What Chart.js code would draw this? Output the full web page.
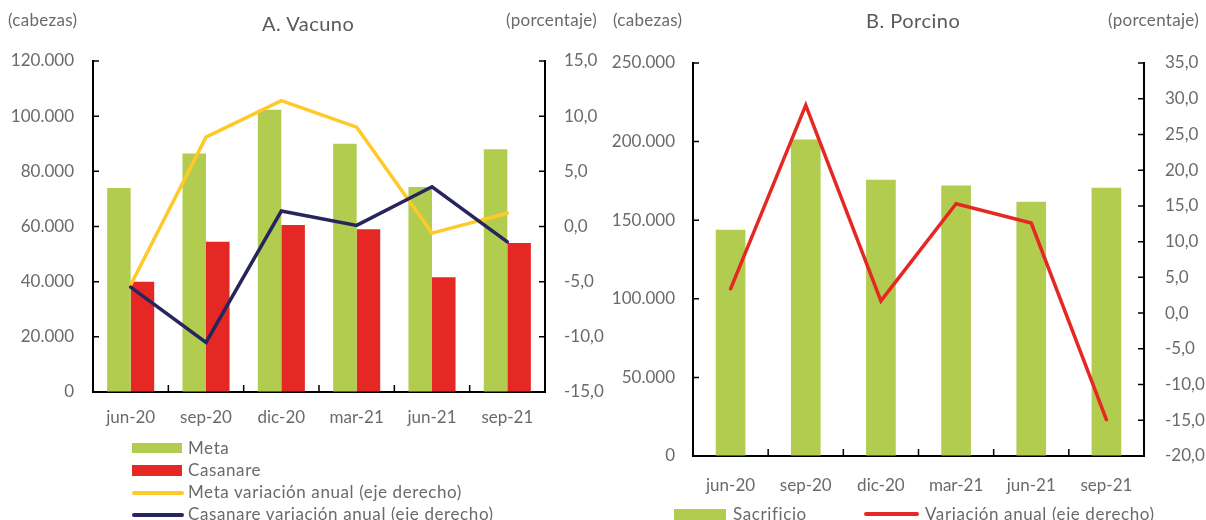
<!DOCTYPE html>
<html>
<head>
<meta charset="utf-8">
<script src="https://cdn.jsdelivr.net/npm/chart.js@4/dist/chart.umd.min.js"></script>
<style>
  body { margin: 0; width: 1206px; height: 520px; background: #fff; position: relative; overflow: hidden; font-family: Lato, "Open Sans", sans-serif; color: #666; }
  canvas { position: absolute; }
  .lbl { position: absolute; font-size: 17px; letter-spacing: 0.3px; color: #6a6a6a; white-space: nowrap; }
  .ttl { position: absolute; font-size: 20px; letter-spacing: 0.5px; color: #5a5a5a; white-space: nowrap; }
  .leg { position: absolute; font-size: 17px; letter-spacing: 0.6px; color: #6a6a6a; white-space: nowrap; line-height: 20px; }
  .sw { position: absolute; }
</style>
</head>
<body>
<canvas id="vacuno" width="606" height="440" style="left:0;top:0"></canvas>
<canvas id="porcino" width="606" height="520" style="left:600px;top:0"></canvas>

<div class="lbl" style="left:8px;top:9px">(cabezas)</div>
<div class="ttl" style="left:262px;top:11px">A. Vacuno</div>
<div class="lbl" style="left:506px;top:9px">(porcentaje)</div>
<div class="lbl" style="left:613px;top:9px">(cabezas)</div>
<div class="ttl" style="left:866px;top:8px">B. Porcino</div>
<div class="lbl" style="left:1108px;top:9px">(porcentaje)</div>

<!-- leyenda A -->
<div class="sw" style="left:132px;top:443px;width:50px;height:10px;background:#B2CC50"></div>
<div class="leg" style="left:188px;top:438px">Meta</div>
<div class="sw" style="left:132px;top:465px;width:50px;height:11px;background:#E52823"></div>
<div class="leg" style="left:188px;top:460px">Casanare</div>
<div class="sw" style="left:132px;top:491px;width:52px;height:4px;border-radius:2px;background:#FFC929"></div>
<div class="leg" style="left:188px;top:482px">Meta variación anual (eje derecho)</div>
<div class="sw" style="left:132px;top:513px;width:52px;height:4px;border-radius:2px;background:#27255E"></div>
<div class="leg" style="left:188px;top:504px">Casanare variación anual (eje derecho)</div>

<!-- leyenda B -->
<div class="sw" style="left:674px;top:509px;width:52px;height:11px;background:#B2CC50"></div>
<div class="leg" style="left:733px;top:504px">Sacrificio</div>
<div class="sw" style="left:864px;top:512px;width:55px;height:4px;border-radius:2px;background:#E52823"></div>
<div class="leg" style="left:925px;top:504px">Variación anual (eje derecho)</div>

<script>
// Datos
const categories = ['jun-20', 'sep-20', 'dic-20', 'mar-21', 'jun-21', 'sep-21'];
const metaHeads = [74000, 86500, 102300, 90000, 74300, 88000];
const casanareHeads = [40000, 54500, 60500, 59000, 41600, 54000];
const metaVar = [-5.3, 8.1, 11.4, 9.0, -0.6, 1.2];
const casanareVar = [-5.5, -10.5, 1.4, 0.1, 3.6, -1.4];
const porcinoHeads = [144000, 201300, 175800, 172000, 161800, 170700];
const porcinoVar = [3.4, 29.1, 1.7, 15.3, 12.6, -14.9];

const GREEN = '#B2CC50', RED = '#E52823', YELLOW = '#FFC929', NAVY = '#27255E';
const tickFont = { family: 'Lato', size: 17 };
const tickColor = '#6a6a6a';

function fmtHeads(v) {
    return String(v).replace(/\B(?=(\d{3})+(?!\d))/g, '.');
}
function fmtPct(v) {
    return v.toFixed(1).replace('.', ',');
}

// marcas de graduacion hacia adentro
const inwardTicks = {
    id: 'inwardTicks',
    afterDraw(chart) {
        const ctx = chart.ctx;
        ctx.save();
        ctx.strokeStyle = '#000';
        ctx.lineWidth = 1.5;
        ctx.beginPath();
        Object.values(chart.scales).forEach(function(s) {
            if (s.axis === 'y') {
                const left = s.position === 'left';
                const x0 = left ? s.right : s.left;
                const dir = left ? 1 : -1;
                s.ticks.forEach(function(t, i) {
                    const y = s.getPixelForTick(i);
                    ctx.moveTo(x0, y);
                    ctx.lineTo(x0 + dir * 6, y);
                });
            } else {
                for (let i = 1; i < s.ticks.length; i++) {
                    const x = (s.getPixelForTick(i - 1) + s.getPixelForTick(i)) / 2;
                    ctx.moveTo(x, s.top);
                    ctx.lineTo(x, s.top - 7);
                }
            }
        });
        ctx.stroke();
        ctx.restore();
    }
};

function yScale(pos, min, max, step, fmt, width, pad) {
    return {
        position: pos,
        min: min,
        max: max,
        afterFit: function(s) { s.width = width; },
        border: { display: true, color: '#000', width: 2 },
        grid: { display: true, drawOnChartArea: false, drawTicks: false },
        ticks: { stepSize: step, font: tickFont, color: tickColor, padding: pad,
                 callback: function(v) { return fmt(v); } }
    };
}

function xScale(pad) {
    return {
        afterFit: function(s) { s.height = 40; },
        border: { display: true, color: '#000', width: 2 },
        grid: { display: true, drawOnChartArea: false, drawTicks: false },
        ticks: { font: tickFont, color: tickColor, padding: pad, maxRotation: 0 }
    };
}

const baseOptions = {
    responsive: false,
    animation: false,
    plugins: { legend: { display: false }, tooltip: { enabled: false } },
    elements: { point: { radius: 0 }, line: { tension: 0, borderCapStyle: 'round', borderJoinStyle: 'miter' } }
};

// A. Vacuno
new Chart(document.getElementById('vacuno'), {
    data: {
        labels: categories,
        datasets: [
            { type: 'line', label: 'Casanare variación anual (eje derecho)', data: casanareVar, yAxisID: 'yR',
              borderColor: NAVY, borderWidth: 3.5, order: 0 },
            { type: 'line', label: 'Meta variación anual (eje derecho)', data: metaVar, yAxisID: 'yR',
              borderColor: YELLOW, borderWidth: 3.5, order: 1 },
            { type: 'bar', label: 'Meta', data: metaHeads, yAxisID: 'yL', backgroundColor: GREEN,
              categoryPercentage: 0.625, barPercentage: 1, order: 2 },
            { type: 'bar', label: 'Casanare', data: casanareHeads, yAxisID: 'yL', backgroundColor: RED,
              categoryPercentage: 0.625, barPercentage: 1, order: 2 }
        ]
    },
    options: Object.assign({}, baseOptions, {
        layout: { padding: { top: 61, bottom: 8, left: 0, right: 0 } },
        scales: {
            x: xScale(15),
            yL: yScale('left', 0, 120000, 20000, fmtHeads, 93, 19),
            yR: yScale('right', -15, 15, 5, fmtPct, 61, 19)
        }
    }),
    plugins: [inwardTicks]
});

// B. Porcino
new Chart(document.getElementById('porcino'), {
    data: {
        labels: categories,
        datasets: [
            { type: 'line', label: 'Variación anual (eje derecho)', data: porcinoVar, yAxisID: 'yR',
              borderColor: RED, borderWidth: 3.5, order: 0 },
            { type: 'bar', label: 'Sacrificio', data: porcinoHeads, yAxisID: 'yL', backgroundColor: GREEN,
              categoryPercentage: 0.395, barPercentage: 1, order: 1 }
        ]
    },
    options: Object.assign({}, baseOptions, {
        layout: { padding: { top: 63, bottom: 24, left: 0, right: 0 } },
        scales: {
            x: xScale(19),
            yL: yScale('left', 0, 250000, 50000, fmtHeads, 93, 18),
            yR: yScale('right', -20, 35, 5, fmtPct, 62, 21)
        }
    }),
    plugins: [inwardTicks]
});
</script>
</body>
</html>
